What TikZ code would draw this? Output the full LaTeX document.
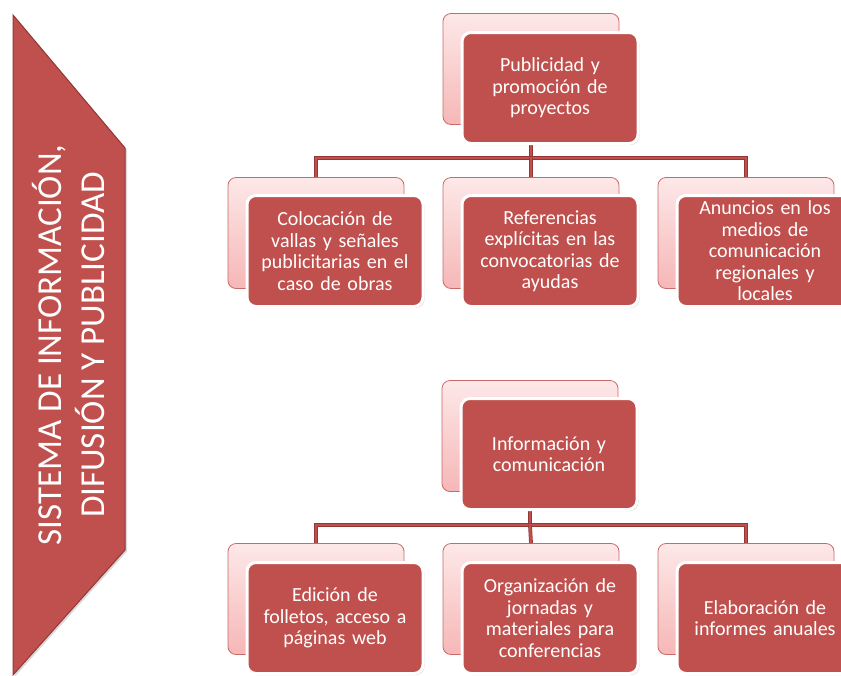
\documentclass[tikz,border=0pt]{standalone}
\usepackage{fontspec}
\setmainfont{Carlito}
\usetikzlibrary{shadows}

\definecolor{brick}{HTML}{C0504D}
\definecolor{brickdark}{HTML}{943634}
\definecolor{blush}{HTML}{FDE8E8}
\definecolor{rose}{HTML}{F6B7B7}

\tikzset{
  backbox/.style={draw=brick!85, line width=0.8pt, rounded corners=8pt,
    top color=blush, bottom color=rose,
    minimum width=176pt, minimum height=111pt},
  frontbox/.style={draw=white, line width=3pt, fill=brick, rounded corners=9pt,
    minimum width=176pt, minimum height=111pt, text width=166pt,
    align=center, text=white, font=\fontsize{20}{21.5}\selectfont,
    drop shadow={opacity=0.35, shadow xshift=1.5pt, shadow yshift=-1.5pt}},
  link/.style={draw=brickdark, double=brick, double distance=2.4pt, line width=0.7pt},
}

\begin{document}
\begin{tikzpicture}[x=1pt, y=-1pt]
  \useasboundingbox (0,0) rectangle (841,675);

  % Side banner
  \filldraw[fill=brick, draw=brickdark, line width=1pt,
    drop shadow={opacity=0.3, shadow xshift=2pt, shadow yshift=-1.5pt}]
    (13,15) -- (125,148) -- (125,550) -- (13,675) -- cycle;
  \node[rotate=90, align=center, text=white, font=\fontsize{35}{43}\selectfont]
    (sistema) at (69,345) {SISTEMA DE INFORMACIÓN,\\ DIFUSIÓN Y PUBLICIDAD};

  % Publicidad y promocion
  \node[backbox] (pubBack) at (531,69) {};
  \node[backbox] (colBack) at (316,233) {};
  \node[backbox] (refBack) at (531,233) {};
  \node[backbox] (anuBack) at (746,233) {};
  \coordinate (bar1) at (531,158);

  \draw[link] (pubBack.south) -- (bar1);
  \draw[link] (colBack.north) |- (bar1) -| (anuBack.north);
  \draw[link] (bar1) -- (refBack.north);

  \node[frontbox] (pubFront) at (550,88) {Publicidad y\\ promoción de\\ proyectos};
  \node[frontbox] (colFront) at (335,251) {Colocación de\\ vallas y señales\\ publicitarias en el\\ caso de obras};
  \node[frontbox] (refFront) at (550,251) {Referencias\\ explícitas en las\\ convocatorias de\\ ayudas};
  \node[frontbox] (anuFront) at (765,251) {Anuncios en los\\ medios de\\ comunicación\\ regionales y\\ locales};

  % Informacion y comunicacion
  \node[backbox] (infBack) at (530,436) {};
  \node[backbox] (ediBack) at (316,599) {};
  \node[backbox] (orgBack) at (531,599) {};
  \node[backbox] (elaBack) at (746,599) {};
  \coordinate (bar2) at (530,525);

  \draw[link] (infBack.south) -- (bar2);
  \draw[link] (ediBack.north) |- (bar2) -| (elaBack.north);
  \draw[link] (bar2) -- (orgBack.north);

  \node[frontbox] (infFront) at (549,454) {Información y\\ comunicación};
  \node[frontbox] (ediFront) at (335,618) {Edición de\\ folletos, acceso a\\ páginas web};
  \node[frontbox] (orgFront) at (550,618) {Organización de\\ jornadas y\\ materiales para\\ conferencias};
  \node[frontbox] (elaFront) at (765,618) {Elaboración de\\ informes anuales};

\end{tikzpicture}
\end{document}
